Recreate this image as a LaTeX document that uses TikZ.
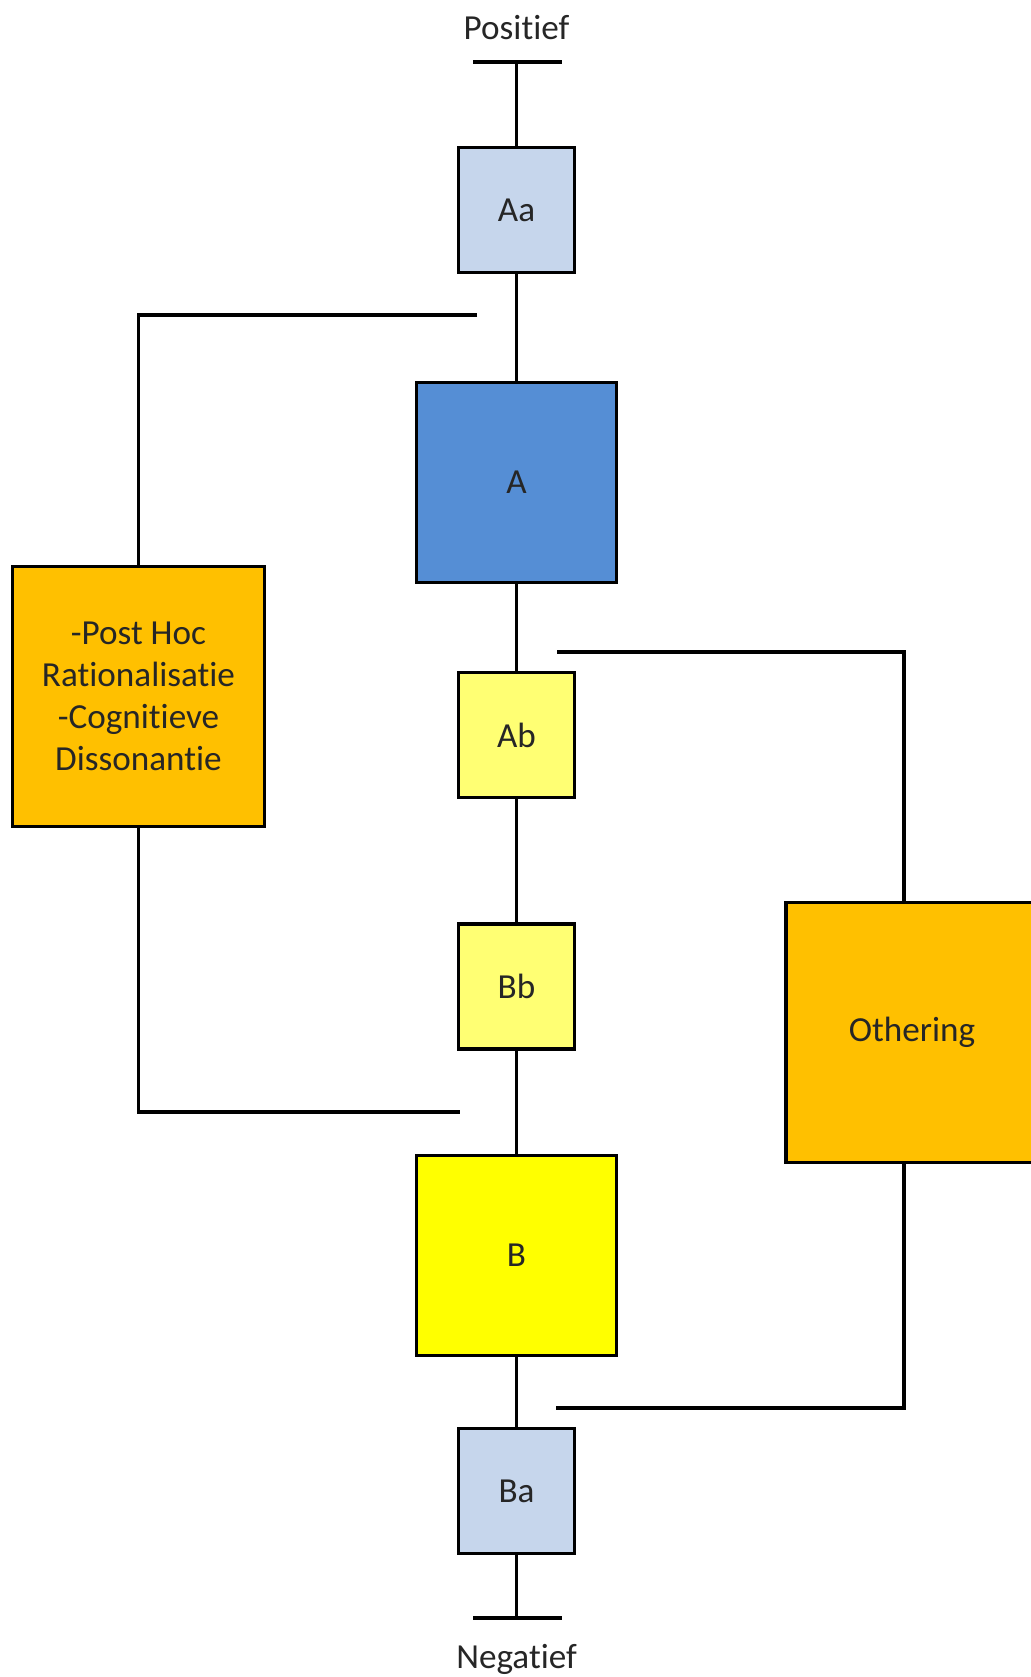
\documentclass[tikz,border=0pt]{standalone}
\usepackage{fontspec}
\setmainfont[Ligatures={NoCommon,NoRequired,NoContextual,NoRare}]{Carlito}
\definecolor{lightblue}{HTML}{C6D6EC}
\definecolor{midblue}{HTML}{558ED5}
\definecolor{paleyellow}{HTML}{FFFF73}
\definecolor{fullyellow}{HTML}{FFFF00}
\definecolor{amber}{HTML}{FFC000}
\definecolor{inkgray}{HTML}{262626}
\begin{document}
\begin{tikzpicture}[x=0.01cm, y=-0.01cm,
        box/.style={draw, line width=1pt, text=inkgray, align=center, inner sep=0pt},
        smallbox/.style={box, minimum width=1.16cm, minimum height=1.25cm},
        bigbox/.style={box, minimum width=2cm, minimum height=2cm},
        sidebox/.style={box, fill=amber, minimum width=2.52cm, minimum height=2.6cm},
        wire/.style={line width=1pt}]
        \useasboundingbox (0,0) rectangle (1030,1677);
        %\draw [help lines, step=100] (0,0) grid (1030,1677);
        
        %the main figure starts
        
        \node [smallbox, fill=lightblue] (Aa) at (516.5,210) {Aa};
        \node [bigbox, fill=midblue] (A) at (516.5,482.5) {A};
        \node [smallbox, fill=paleyellow] (Ab) at (516.5,735) {Ab};
        \node [smallbox, fill=paleyellow] (Bb) at (516.5,986.5) {Bb};
        \node [bigbox, fill=fullyellow] (B) at (516.5,1255.5) {B};
        \node [smallbox, fill=lightblue] (Ba) at (516.5,1491) {Ba};
        
        \node [sidebox] (posthoc) at (138.5,696.5) {-Post Hoc\\Rationalisatie\\-Cognitieve\\Dissonantie};
        \node [sidebox] (othering) at (912,1032.5) {Othering};
        
        \node [text=inkgray] (pos) at (516.5,28) {Positief};
        \node [text=inkgray] (neg) at (516.5,1659) {Negatief};
        
        % ends of the axis
        \coordinate (top) at (516.5,62);
        \coordinate (topL) at (473,62);
        \coordinate (topR) at (562,62);
        \coordinate (bot) at (516.5,1618);
        \coordinate (botL) at (473,1618);
        \coordinate (botR) at (562,1618);
        
        \draw [wire] (topL) -- (topR);
        \draw [wire] (botL) -- (botR);
        \draw [wire] (top) -- (Aa) -- (A) -- (Ab) -- (Bb) -- (B) -- (Ba) -- (bot);
        
        % brackets
        \coordinate (ltop) at (477,315);
        \coordinate (lbot) at (460,1112);
        \coordinate (rtop) at (557,652);
        \coordinate (rbot) at (556,1408);
        
        \draw [wire] (ltop) -| (posthoc.north);
        \draw [wire] (posthoc.south) |- (lbot);
        \draw [wire] (rtop) -| ([xshift=-0.08cm]othering.north);
        \draw [wire] ([xshift=-0.08cm]othering.south) |- (rbot);
        
    \end{tikzpicture}
\end{document}
